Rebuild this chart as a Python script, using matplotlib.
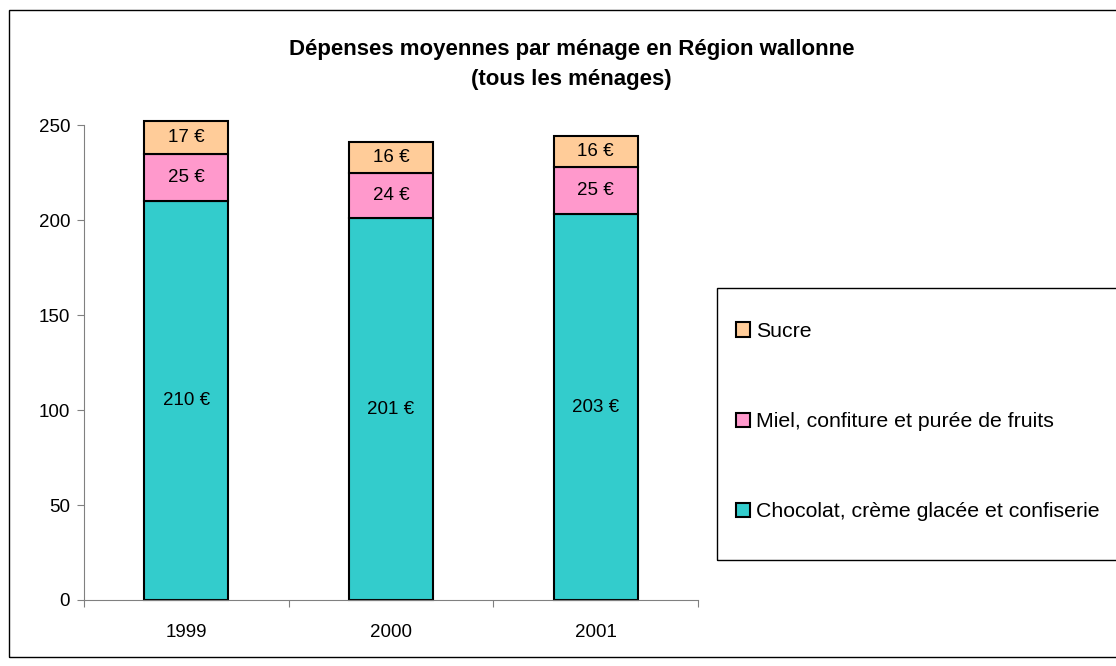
import matplotlib
matplotlib.use('Agg')
import matplotlib.pyplot as plt
from matplotlib.patches import Rectangle
import numpy as np

plt.rcParams['font.family'] = ['Liberation Sans', 'DejaVu Sans']

years = ['1999', '2000', '2001']
chocolat = [210, 201, 203]
miel = [25, 24, 25]
sucre = [17, 16, 16]
series_names = ['Chocolat, crème glacée et confiserie',
                'Miel, confiture et purée de fruits',
                'Sucre']
colors = ['#33CCCC', '#FF99CC', '#FFCC99']

fig = plt.figure(figsize=(11.16, 6.66), dpi=100)
ax = fig.add_axes([0.0753, 0.0991, 0.5501, 0.7132])

x = np.arange(len(years))
bottom = np.zeros(len(years))
handles = []
for vals, name, col in zip([chocolat, miel, sucre], series_names, colors):
    bars = ax.bar(x, vals, width=0.41, bottom=bottom, color=col,
                  edgecolor='black', linewidth=1.5, label=name, clip_on=False)
    handles.append(bars)
    for xi, b, v in zip(x, bottom, vals):
        ax.text(xi, b + v / 2, f'{v} €', ha='center', va='center', fontsize=13.5)
    bottom += vals

ax.set_ylim(0, 250)
ax.set_xlim(-0.5, 2.5)
ax.set_yticks(range(0, 251, 50))
ax.tick_params(axis='y', labelsize=13.5, color='#808080', length=5, pad=5)
ax.set_xticks([-0.5, 0.5, 1.5, 2.5])
ax.set_xticklabels([])
ax.set_xticks(x, minor=True)
ax.set_xticklabels(years, minor=True, fontsize=13.5)
ax.tick_params(axis='x', which='major', color='#808080', length=5, direction='out')
ax.tick_params(axis='x', which='minor', length=0, pad=17)
for s in ['top', 'right']:
    ax.spines[s].set_visible(False)
for s in ['left', 'bottom']:
    ax.spines[s].set_color('#808080')

fig.text(0.512, 0.926, 'Dépenses moyennes par ménage en Région wallonne',
         ha='center', va='center', fontsize=16, fontweight='bold')
fig.text(0.512, 0.881, '(tous les ménages)',
         ha='center', va='center', fontsize=16, fontweight='bold')

# legend frame drawn separately so it can run off the right edge like the original
fig.patches.append(Rectangle((0.6425, 0.159), 0.5, 0.4084, transform=fig.transFigure,
                             fill=False, edgecolor='black', linewidth=1.0))
leg = fig.legend(handles[::-1], series_names[::-1], loc='center left',
                 bbox_to_anchor=(0.6595, 0.367), fontsize=15.3, frameon=False,
                 labelspacing=3.35, handlelength=0.65, handleheight=0.65,
                 handletextpad=0.3, borderpad=0, borderaxespad=0)

fig.patches.append(Rectangle((0.008, 0.014), 1.2, 0.971, transform=fig.transFigure,
                             fill=False, edgecolor='black', linewidth=1.0))

fig.savefig('out.png', dpi=100)
